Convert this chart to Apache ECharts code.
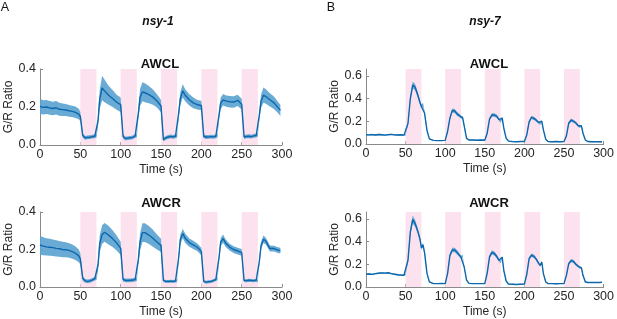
<!DOCTYPE html>
<html>
<head>
<meta charset="utf-8">
<script src="https://cdn.jsdelivr.net/npm/echarts@6/dist/echarts.min.js"></script>
<style>html,body{margin:0;padding:0;background:#fff}#c{width:617px;height:319px}</style>
</head>
<body>
<div id="c"></div>
<script>
const T = [0,4,8,12,16,20,24,28,32,36,40,44,48,
50,53,56,59,62,65,68,70,72,74,77,80,85,90,95,
100,103,106,109,112,115,118,120,122,124,127,130,135,140,145,
150,153,156,159,162,165,168,170,172,174,177,180,185,190,195,
200,203,206,209,212,215,218,220,222,224,227,230,235,240,245,
250,253,256,259,262,265,268,270,272,274,277,280,285,290,295,298];

const stimStart = [50,100,150,200,250];
const stimEnd = [70,120,170,220,270];

const xTicks = [0,50,100,150,200,250,300];
const yTicksA = [0,0.2,0.4];
const yTicksB = [0,0.2,0.4,0.6];

const panelLetters = ['A','B'];
const genotypes = ['nsy-1','nsy-7'];
const neurons = ['AWCL','AWCR'];

// nsy-1 AWCL
const nsy1_AWCL_mean = [0.203,0.198,0.200,0.195,0.192,0.196,0.188,0.186,0.184,0.180,0.177,0.172,0.163,
0.150,0.050,0.038,0.040,0.041,0.044,0.046,0.050,0.130,0.240,0.300,0.285,0.262,0.245,0.225,
0.212,0.045,0.034,0.036,0.038,0.040,0.048,0.050,0.170,0.250,0.280,0.275,0.265,0.252,0.232,
0.205,0.028,0.038,0.042,0.045,0.043,0.046,0.050,0.170,0.245,0.285,0.262,0.238,0.222,0.212,
0.208,0.045,0.042,0.043,0.044,0.043,0.046,0.050,0.160,0.220,0.238,0.232,0.228,0.226,0.235,
0.215,0.042,0.045,0.046,0.044,0.048,0.050,0.055,0.160,0.230,0.262,0.255,0.238,0.222,0.198,
0.182];
const nsy1_AWCL_sem = [0.040,0.038,0.037,0.036,0.035,0.035,0.034,0.033,0.032,0.031,0.030,0.030,0.028,
0.025,0.012,0.010,0.010,0.010,0.010,0.010,0.010,0.030,0.050,0.065,0.060,0.050,0.045,0.040,
0.038,0.012,0.010,0.010,0.010,0.010,0.010,0.010,0.030,0.045,0.050,0.050,0.045,0.040,0.035,
0.032,0.010,0.010,0.010,0.010,0.010,0.010,0.010,0.025,0.035,0.035,0.032,0.030,0.028,0.025,
0.025,0.010,0.010,0.010,0.010,0.010,0.010,0.010,0.025,0.030,0.030,0.030,0.030,0.030,0.030,
0.028,0.010,0.010,0.010,0.010,0.010,0.010,0.010,0.025,0.035,0.040,0.038,0.035,0.033,0.030,
0.030];

// nsy-1 AWCR
const nsy1_AWCR_mean = [0.224,0.218,0.214,0.212,0.210,0.206,0.204,0.200,0.199,0.195,0.189,0.180,0.166,
0.150,0.045,0.033,0.030,0.033,0.038,0.045,0.048,0.120,0.230,0.280,0.292,0.277,0.258,0.235,
0.206,0.040,0.035,0.035,0.036,0.037,0.040,0.042,0.150,0.240,0.290,0.290,0.277,0.260,0.240,
0.222,0.035,0.030,0.030,0.031,0.030,0.032,0.034,0.160,0.255,0.285,0.260,0.237,0.225,0.212,
0.190,0.030,0.026,0.028,0.030,0.034,0.040,0.044,0.160,0.240,0.258,0.235,0.213,0.200,0.192,
0.185,0.035,0.034,0.036,0.035,0.034,0.036,0.032,0.140,0.220,0.255,0.245,0.205,0.205,0.197,
0.194];
const nsy1_AWCR_sem = [0.050,0.048,0.046,0.045,0.044,0.043,0.042,0.041,0.040,0.039,0.038,0.036,0.034,
0.030,0.012,0.010,0.010,0.010,0.010,0.010,0.010,0.030,0.045,0.050,0.050,0.050,0.045,0.040,
0.035,0.010,0.010,0.010,0.010,0.010,0.010,0.010,0.030,0.045,0.050,0.050,0.048,0.045,0.040,
0.035,0.008,0.008,0.008,0.008,0.008,0.008,0.008,0.020,0.025,0.025,0.025,0.022,0.022,0.020,
0.020,0.008,0.008,0.008,0.008,0.008,0.008,0.008,0.020,0.022,0.022,0.020,0.018,0.018,0.018,
0.018,0.008,0.008,0.008,0.008,0.008,0.008,0.008,0.020,0.020,0.020,0.018,0.016,0.015,0.015,
0.015];

// nsy-7 AWCL
const nsy7_AWCL_mean = [0.082,0.080,0.083,0.079,0.084,0.081,0.078,0.082,0.085,0.080,0.079,0.081,0.078,
0.080,0.180,0.400,0.520,0.500,0.440,0.370,0.330,0.345,0.270,0.120,0.045,0.032,0.030,0.030,
0.032,0.110,0.230,0.295,0.290,0.265,0.250,0.235,0.232,0.160,0.050,0.035,0.035,0.033,0.035,
0.033,0.095,0.220,0.255,0.255,0.245,0.215,0.200,0.228,0.140,0.050,0.025,0.022,0.020,0.022,
0.022,0.080,0.195,0.235,0.225,0.210,0.190,0.178,0.200,0.125,0.040,0.022,0.020,0.022,0.020,
0.022,0.070,0.183,0.210,0.200,0.185,0.160,0.150,0.160,0.095,0.035,0.022,0.020,0.021,0.020,
0.020];
const nsy7_AWCL_sem = [0.006,0.006,0.006,0.006,0.006,0.006,0.006,0.006,0.006,0.006,0.006,0.006,0.006,
0.006,0.012,0.022,0.030,0.028,0.024,0.020,0.018,0.018,0.015,0.010,0.005,0.004,0.004,0.004,
0.004,0.008,0.015,0.018,0.018,0.016,0.014,0.012,0.012,0.010,0.006,0.004,0.004,0.004,0.004,
0.004,0.008,0.014,0.016,0.016,0.014,0.012,0.012,0.012,0.010,0.006,0.004,0.004,0.004,0.004,
0.004,0.008,0.012,0.014,0.014,0.012,0.011,0.010,0.010,0.008,0.005,0.004,0.004,0.004,0.004,
0.004,0.008,0.012,0.014,0.013,0.012,0.010,0.010,0.010,0.008,0.005,0.004,0.004,0.004,0.004,
0.004];

// nsy-7 AWCR
const nsy7_AWCR_mean = [0.112,0.114,0.111,0.118,0.121,0.124,0.122,0.125,0.118,0.112,0.108,0.105,0.103,
0.110,0.235,0.485,0.594,0.560,0.500,0.426,0.345,0.370,0.300,0.120,0.045,0.030,0.030,0.032,
0.030,0.118,0.280,0.325,0.325,0.305,0.280,0.262,0.272,0.176,0.060,0.032,0.030,0.030,0.030,
0.030,0.120,0.265,0.305,0.295,0.270,0.235,0.222,0.262,0.147,0.053,0.025,0.024,0.022,0.024,
0.025,0.110,0.250,0.280,0.270,0.245,0.208,0.190,0.220,0.118,0.044,0.030,0.030,0.028,0.030,
0.030,0.100,0.206,0.232,0.225,0.200,0.182,0.170,0.168,0.103,0.044,0.040,0.040,0.041,0.040,
0.042];
const nsy7_AWCR_sem = [0.006,0.006,0.006,0.006,0.006,0.006,0.006,0.006,0.006,0.006,0.006,0.006,0.006,
0.006,0.014,0.025,0.035,0.030,0.025,0.020,0.018,0.018,0.015,0.010,0.005,0.004,0.004,0.004,
0.004,0.010,0.016,0.020,0.020,0.018,0.015,0.013,0.013,0.010,0.006,0.004,0.004,0.004,0.004,
0.004,0.010,0.015,0.018,0.018,0.016,0.013,0.012,0.012,0.010,0.006,0.004,0.004,0.004,0.004,
0.004,0.008,0.013,0.015,0.015,0.013,0.012,0.011,0.011,0.008,0.005,0.004,0.004,0.004,0.004,
0.004,0.008,0.012,0.014,0.014,0.012,0.011,0.010,0.010,0.008,0.005,0.004,0.004,0.004,0.004,
0.004];

const FONT = '"Liberation Sans", Arial, sans-serif';
const TXT = '#262626';
const AXC = '#8a8a8a';
const LINE = '#0c67ad';
const BAND = '#5aa2d2';
const PINK = '#fce1ee';

const panels = [
  {mean: nsy1_AWCL_mean, sem: nsy1_AWCL_sem, ymax: 0.4, yt: yTicksA, grid: {left: 40, top: 69, width: 242, height: 76}},
  {mean: nsy1_AWCR_mean, sem: nsy1_AWCR_sem, ymax: 0.4, yt: yTicksA, grid: {left: 40, top: 212, width: 242, height: 75}},
  {mean: nsy7_AWCL_mean, sem: nsy7_AWCL_sem, ymax: 0.66, yt: yTicksB, grid: {left: 366, top: 69, width: 243, height: 75}},
  {mean: nsy7_AWCR_mean, sem: nsy7_AWCR_sem, ymax: 0.66, yt: yTicksB, grid: {left: 366, top: 212, width: 243, height: 75}}
];

const grids = [], xAxes = [], yAxes = [], series = [];

panels.forEach((p, i) => {
  grids.push(Object.assign({containLabel: false}, p.grid));
  xAxes.push({
    type: 'value', gridIndex: i, min: 0, max: 300, interval: 50,
    name: 'Time (s)', nameLocation: 'middle', nameGap: 19,
    nameTextStyle: {color: TXT, fontFamily: FONT, fontSize: 12},
    axisLine: {lineStyle: {color: AXC, width: 1}},
    axisTick: {inside: true, length: 3, lineStyle: {color: AXC}, customValues: xTicks},
    axisLabel: {color: TXT, fontFamily: FONT, fontSize: 12.5, margin: 3, customValues: xTicks},
    splitLine: {show: false}
  });
  yAxes.push({
    type: 'value', gridIndex: i, min: 0, max: p.ymax,
    name: 'G/R Ratio', nameLocation: 'middle', nameGap: 23,
    nameTextStyle: {color: TXT, fontFamily: FONT, fontSize: 12},
    axisLine: {show: true, lineStyle: {color: AXC, width: 1}},
    axisTick: {show: true, inside: true, length: 3, lineStyle: {color: AXC}, customValues: p.yt},
    axisLabel: {color: TXT, fontFamily: FONT, fontSize: 12.5, margin: 4, customValues: p.yt,
      formatter: v => v.toFixed(1)},
    splitLine: {show: false}
  });
  // stimulus shading
  series.push({
    type: 'custom', xAxisIndex: i, yAxisIndex: i, silent: true, z: 1,
    data: stimStart.map((s, k) => [s, stimEnd[k]]),
    encode: {x: [0, 1]},
    renderItem: (params, api) => {
      const a = api.coord([api.value(0), p.ymax]);
      const b = api.coord([api.value(1), 0]);
      return {type: 'rect', shape: {x: a[0], y: a[1], width: b[0] - a[0], height: b[1] - a[1]},
        style: {fill: PINK}};
    }
  });
  // error band (mean ± sem) as one polygon
  series.push({
    type: 'custom', xAxisIndex: i, yAxisIndex: i, silent: true, z: 2,
    data: [[0, 0]],
    renderItem: (params, api) => {
      const up = T.map((t, k) => api.coord([t, p.mean[k] + p.sem[k]]));
      const lo = T.map((t, k) => api.coord([t, p.mean[k] - p.sem[k]])).reverse();
      return {type: 'polygon', shape: {points: up.concat(lo)}, style: {fill: BAND, opacity: 0.9}};
    }
  });
  series.push({
    type: 'line', xAxisIndex: i, yAxisIndex: i, data: T.map((t, k) => [t, p.mean[k]]),
    symbol: 'none', lineStyle: {width: 1.4, color: LINE}, silent: true, z: 3
  });
});

const texts = [
  {x: 5, y: 8, t: panelLetters[0], f: 'normal 12.5px ' + FONT},
  {x: 331, y: 8, t: panelLetters[1], f: 'normal 12.5px ' + FONT},
  {x: 158, y: 22, t: genotypes[0], f: 'italic bold 12px ' + FONT},
  {x: 485, y: 22, t: genotypes[1], f: 'italic bold 12px ' + FONT},
  {x: 160, y: 64, t: neurons[0], f: 'bold 13px ' + FONT},
  {x: 161, y: 203, t: neurons[1], f: 'bold 13px ' + FONT},
  {x: 489, y: 64, t: neurons[0], f: 'bold 13px ' + FONT},
  {x: 489, y: 203, t: neurons[1], f: 'bold 13px ' + FONT}
];

const chart = echarts.init(document.getElementById('c'), null, {renderer: 'canvas'});
chart.setOption({
  animation: false,
  backgroundColor: '#fff',
  grid: grids, xAxis: xAxes, yAxis: yAxes, series: series,
  graphic: texts.map(o => ({type: 'text', x: o.x, y: o.y,
    style: {text: o.t, font: o.f, fill: '#111', align: 'center', verticalAlign: 'middle'}}))
});
</script>
</body>
</html>
